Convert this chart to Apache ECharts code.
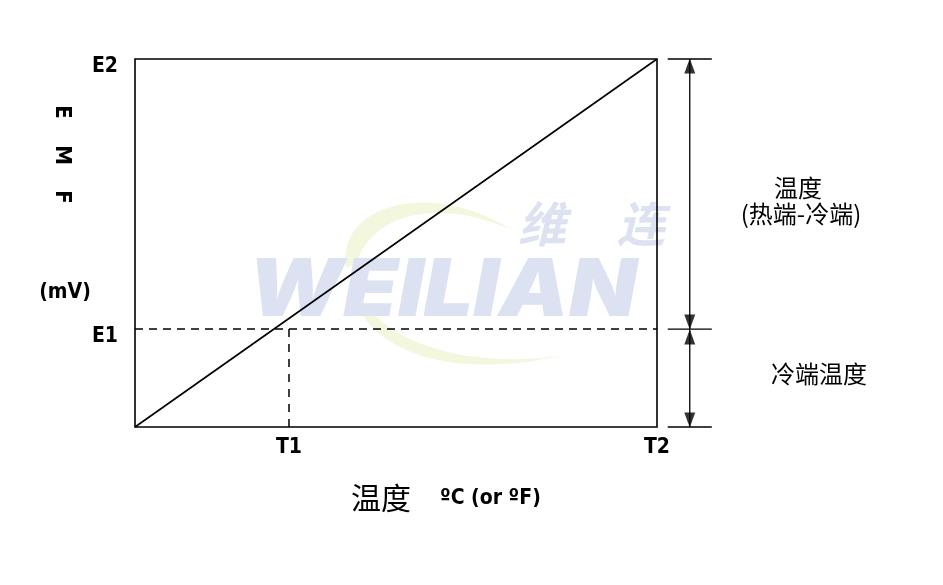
<!DOCTYPE html>
<html>
<head>
<meta charset="utf-8">
<script src="https://cdn.jsdelivr.net/npm/echarts@6/dist/echarts.min.js"></script>
<style>html,body{margin:0;padding:0;background:#fff}#c{width:943px;height:585px}</style>
</head>
<body>
<div id="c"></div>
<script>
// ---- data ----
const xTickValues = [29.5, 100];
const xTickLabels = ['T1', 'T2'];
const yTickValues = [26.6, 100];
const yTickLabels = ['E1', 'E2'];
const emfX = [0, 100];
const emfY = [0, 100];
// right-hand bracket (second, hidden grid: x in 0..100 across the bracket strip)
const bracketX = [17, 87];
const arrowX = 52;
const yAxisLetters = ['E', 'M', 'F'];
const yAxisUnit = '(mV)';
const xAxisNameCN = '温度';
const xAxisNameUnit = 'ºC (or ºF)';
const rightLabelTop = ['温度', '(热端-冷端)'];
const rightLabelBottom = '冷端温度';

const NARROW = "'Liberation Sans Narrow','DejaVu Sans Condensed',sans-serif";
const CJK = "'Noto Sans CJK SC','Noto Sans',sans-serif";

const chart = echarts.init(document.getElementById('c'), null, {renderer: 'canvas'});

const E1 = yTickValues[0], E2 = yTickValues[1], T1 = xTickValues[0];
const series = [];
series.push({type: 'line', data: emfX.map((x, i) => [x, emfY[i]]), symbol: 'none',
  lineStyle: {color: '#000', width: 1.6}, z: 5});
series.push({type: 'line', data: [[emfX[0], E1], [emfX[1], E1]], symbol: 'none',
  lineStyle: {color: '#000', width: 1.5, type: [8, 6]}});
series.push({type: 'line', data: [[T1, E1], [T1, emfY[0]]], symbol: 'none',
  lineStyle: {color: '#000', width: 1.5, type: [8, 7]}});
const b = {xAxisIndex: 1, yAxisIndex: 1, clip: false};
[E2, E1, emfY[0]].forEach(v => {
  series.push(Object.assign({type: 'line', data: [[bracketX[0], v], [bracketX[1], v]], symbol: 'none',
    lineStyle: {color: '#000', width: 1.3}}, b));
});
series.push(Object.assign({type: 'line', data: [[arrowX, E2], [arrowX, E1]], symbol: 'none', lineStyle: {color: '#000', width: 1.3}}, b));
series.push(Object.assign({type: 'line', data: [[arrowX, E1], [arrowX, emfY[0]]], symbol: 'none', lineStyle: {color: '#000', width: 1.3}}, b));
series.push(Object.assign({type: 'scatter', symbol: 'triangle', symbolSize: [11, 15],
  itemStyle: {color: '#000'}, z: 6,
  data: [
    {value: [arrowX, E2], symbolRotate: 0, symbolOffset: [0, 7]},
    {value: [arrowX, E1], symbolRotate: 180, symbolOffset: [0, -7]},
    {value: [arrowX, E1], symbolRotate: 0, symbolOffset: [0, 8]},
    {value: [arrowX, emfY[0]], symbolRotate: 180, symbolOffset: [0, -7]}
  ]}, b));

// crescent helper for the watermark swoosh (decoration only)
function bez(p0, p1, p2, p3, n) {
  const pts = [];
  for (let i = 0; i <= n; i++) {
    const t = i / n, u = 1 - t;
    pts.push([u*u*u*p0[0] + 3*u*u*t*p1[0] + 3*u*t*t*p2[0] + t*t*t*p3[0],
              u*u*u*p0[1] + 3*u*u*t*p1[1] + 3*u*t*t*p2[1] + t*t*t*p3[1]]);
  }
  return pts;
}
const cres1 = bez([346,268],[336,205],[430,178],[512,230],30).concat(bez([512,230],[440,198],[372,212],[356,264],30));
const cres2 = bez([352,292],[368,352],[450,380],[560,356],30).concat(bez([560,356],[470,368],[395,345],[366,305],30));

const wm = '#dce2f1';
const graphic = [
  {type: 'polygon', z: -10, shape: {points: cres1}, style: {fill: '#f3f7dd'}},
  {type: 'polygon', z: -10, shape: {points: cres2}, style: {fill: '#f3f7dd'}},
  {type: 'text', z: -9, x: 248, y: 252, scaleX: 1.1, style: {text: 'WEILIAN', font: 'italic 900 80px Inter, sans-serif', fill: wm}},
  {type: 'text', z: -9, x: 518, y: 200, style: {text: '维', font: 'italic bold 48px ' + CJK, fill: wm}},
  {type: 'text', z: -9, x: 617, y: 200, style: {text: '连', font: 'italic bold 48px ' + CJK, fill: wm}},
  ...yAxisLetters.map((ch, i) => ({type: 'text', x: 62, y: [112, 155, 197][i], rotation: -Math.PI / 2,
    style: {text: ch, fontSize: 22, fontWeight: 'bold', fontFamily: NARROW, fill: '#000', align: 'center', verticalAlign: 'middle'}})),
  {type: 'text', x: 65, y: 293, style: {text: yAxisUnit, font: 'bold 21px ' + NARROW, fill: '#000', align: 'center', verticalAlign: 'middle'}},
  {type: 'text', x: 351, y: 498, style: {text: xAxisNameCN, font: '30px ' + CJK, fill: '#000', align: 'left', verticalAlign: 'middle'}},
  {type: 'text', x: 440, y: 499, style: {text: xAxisNameUnit, font: 'bold 21px ' + NARROW, fill: '#000', align: 'left', verticalAlign: 'middle'}},
  {type: 'text', x: 798, y: 188, style: {text: rightLabelTop[0], font: '24px ' + CJK, fill: '#000', align: 'center', verticalAlign: 'middle'}},
  {type: 'text', x: 801, y: 214, style: {text: rightLabelTop[1], font: '24px ' + CJK, fill: '#000', align: 'center', verticalAlign: 'middle'}},
  {type: 'text', x: 819, y: 374, style: {text: rightLabelBottom, font: '24px ' + CJK, fill: '#000', align: 'center', verticalAlign: 'middle'}}
];

const hiddenAxis = {type: 'value', min: 0, max: 100, show: false, gridIndex: 1};
chart.setOption({
  animation: false,
  backgroundColor: '#fff',
  grid: [
    {left: 135, top: 59, width: 522, height: 368, show: true, borderColor: '#000', borderWidth: 1.6, backgroundColor: 'transparent'},
    {left: 657, top: 59, width: 63, height: 368, show: false}
  ],
  xAxis: [{type: 'value', min: 0, max: 100,
    axisLine: {show: false}, axisTick: {show: false}, splitLine: {show: false},
    axisLabel: {customValues: xTickValues, margin: 10, color: '#000', fontFamily: NARROW, fontWeight: 'bold', fontSize: 21,
      formatter: v => xTickLabels[xTickValues.indexOf(v)] || ''}}, hiddenAxis],
  yAxis: [{type: 'value', min: 0, max: 100,
    axisLine: {show: false}, axisTick: {show: false}, splitLine: {show: false},
    axisLabel: {customValues: yTickValues, margin: 17, color: '#000', fontFamily: NARROW, fontWeight: 'bold', fontSize: 21,
      verticalAlign: 'top', padding: [-3, 0, 0, 0],
      formatter: v => yTickLabels[yTickValues.indexOf(v)] || ''}}, hiddenAxis],
  series: series,
  graphic: graphic
});
</script>
</body>
</html>
